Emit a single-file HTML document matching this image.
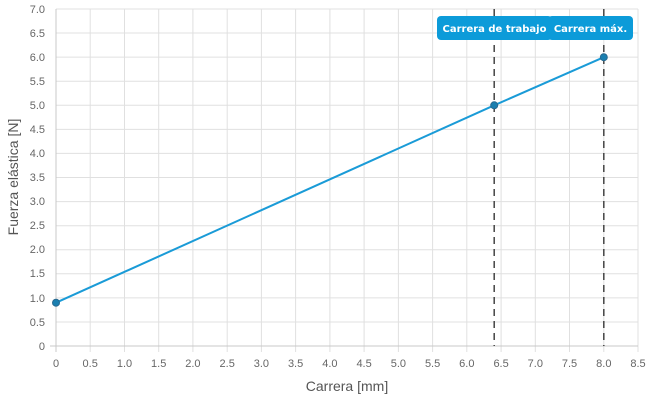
<!DOCTYPE html><html><head><style>body{margin:0;background:#fff}</style></head><body>
<svg width="650" height="400" xmlns="http://www.w3.org/2000/svg" font-family="Liberation Sans, sans-serif">
<g stroke="#e0e0e0" stroke-width="1">
<line x1="56" y1="9" x2="638" y2="9"/><line x1="56" y1="33" x2="638" y2="33"/><line x1="56" y1="57.1" x2="638" y2="57.1"/><line x1="56" y1="81.2" x2="638" y2="81.2"/><line x1="56" y1="105.3" x2="638" y2="105.3"/><line x1="56" y1="129.4" x2="638" y2="129.4"/><line x1="56" y1="153.4" x2="638" y2="153.4"/><line x1="56" y1="177.5" x2="638" y2="177.5"/><line x1="56" y1="201.6" x2="638" y2="201.6"/><line x1="56" y1="225.7" x2="638" y2="225.7"/><line x1="56" y1="249.7" x2="638" y2="249.7"/><line x1="56" y1="273.8" x2="638" y2="273.8"/><line x1="56" y1="297.9" x2="638" y2="297.9"/><line x1="56" y1="322" x2="638" y2="322"/>
<line x1="90.2" y1="9" x2="90.2" y2="352"/><line x1="124.5" y1="9" x2="124.5" y2="352"/><line x1="158.7" y1="9" x2="158.7" y2="352"/><line x1="192.9" y1="9" x2="192.9" y2="352"/><line x1="227.2" y1="9" x2="227.2" y2="352"/><line x1="261.4" y1="9" x2="261.4" y2="352"/><line x1="295.6" y1="9" x2="295.6" y2="352"/><line x1="329.9" y1="9" x2="329.9" y2="352"/><line x1="364.1" y1="9" x2="364.1" y2="352"/><line x1="398.4" y1="9" x2="398.4" y2="352"/><line x1="432.6" y1="9" x2="432.6" y2="352"/><line x1="466.8" y1="9" x2="466.8" y2="352"/><line x1="501.1" y1="9" x2="501.1" y2="352"/><line x1="535.3" y1="9" x2="535.3" y2="352"/><line x1="569.5" y1="9" x2="569.5" y2="352"/><line x1="603.8" y1="9" x2="603.8" y2="352"/><line x1="638" y1="9" x2="638" y2="352"/>
</g>
<line x1="56" y1="9" x2="56" y2="352" stroke="#c8c8c8"/>
<line x1="50" y1="346" x2="638" y2="346" stroke="#c8c8c8"/>
<g fill="#666" font-size="11" text-anchor="end">
<text x="45" y="13">7.0</text><text x="45" y="37">6.5</text><text x="45" y="61">6.0</text><text x="45" y="85">5.5</text><text x="45" y="109">5.0</text><text x="45" y="133">4.5</text><text x="45" y="157">4.0</text><text x="45" y="181">3.5</text><text x="45" y="205">3.0</text><text x="45" y="229">2.5</text><text x="45" y="253">2.0</text><text x="45" y="277">1.5</text><text x="45" y="302">1.0</text><text x="45" y="326">0.5</text><text x="45" y="350">0</text>
</g>
<g fill="#666" font-size="11" text-anchor="middle">
<text x="56" y="367">0</text><text x="90.2" y="367">0.5</text><text x="124.5" y="367">1.0</text><text x="158.7" y="367">1.5</text><text x="192.9" y="367">2.0</text><text x="227.2" y="367">2.5</text><text x="261.4" y="367">3.0</text><text x="295.6" y="367">3.5</text><text x="329.9" y="367">4.0</text><text x="364.1" y="367">4.5</text><text x="398.4" y="367">5.0</text><text x="432.6" y="367">5.5</text><text x="466.8" y="367">6.0</text><text x="501.1" y="367">6.5</text><text x="535.3" y="367">7.0</text><text x="569.5" y="367">7.5</text><text x="603.8" y="367">8.0</text><text x="638" y="367">8.5</text>
</g>
<text x="347" y="391" fill="#555" font-size="14" text-anchor="middle">Carrera [mm]</text>
<text transform="translate(18,177) rotate(-90)" fill="#555" font-size="14" text-anchor="middle">Fuerza elástica [N]</text>
<g stroke="#444" stroke-width="1.5" stroke-dasharray="7,5">
<line x1="494.2" y1="9" x2="494.2" y2="346"/><line x1="603.8" y1="9" x2="603.8" y2="346"/>
</g>
<polyline points="56,302.7 494.2,105.3 603.8,57.2" fill="none" stroke="#1a9bd7" stroke-width="2"/>
<g fill="#1a7fb0" stroke="#2a6a90"><circle cx="56" cy="302.7" r="3.5"/><circle cx="494.2" cy="105.3" r="3.5"/><circle cx="603.8" cy="57.2" r="3.5"/></g>
<rect x="437" y="16" width="115" height="24" rx="4" fill="#0c9bd9"/>
<rect x="548" y="16" width="85" height="24" rx="4" fill="#0c9bd9"/>
<g fill="#fff" font-size="10" font-weight="bold" font-family="DejaVu Sans, sans-serif" text-anchor="middle">
<text x="494.5" y="32">Carrera de trabajo</text><text x="590.5" y="32">Carrera máx.</text>
</g>
</svg>
</body></html>
